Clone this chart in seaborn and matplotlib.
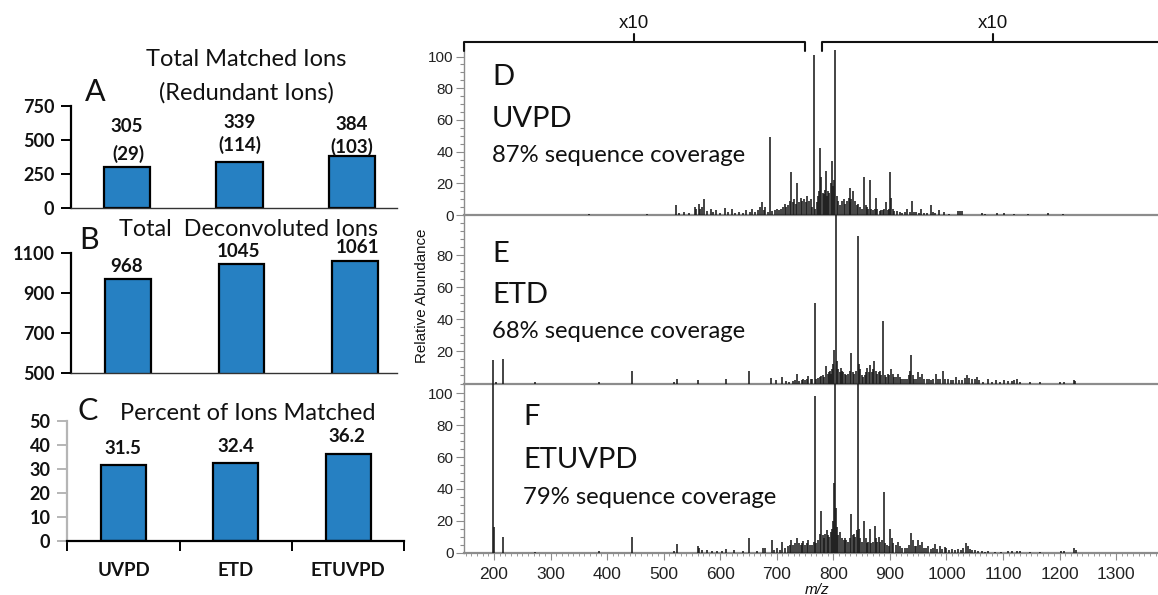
import matplotlib
matplotlib.use("Agg")
import matplotlib.pyplot as plt
from matplotlib.lines import Line2D
import pandas as pd
import seaborn as sns

sns.set_theme(style="white")
plt.rcParams['font.family'] = ['Lato', 'DejaVu Sans']

W, H = 1158, 595

methods = ['UVPD', 'ETD', 'ETUVPD']
matched_ions = [305, 339, 384]
deconvoluted_ions = [968, 1045, 1061]
percent_matched = [31.5, 32.4, 36.2]

# espectros (m/z, abundancia relativa)
uvpd_mz = [207, 260, 300, 368, 430, 470, 522, 528, 536, 545,
           555, 558, 562, 565, 568, 572, 576, 583, 588, 592,
           600, 608, 613, 621, 627, 633, 640, 646, 652, 657,
           662, 667, 671, 674, 678, 680, 684, 688, 692, 696,
           700, 704, 708, 711, 714, 717, 720, 723, 725, 728,
           731, 734, 736, 739, 742, 745, 748, 751, 754, 757,
           760, 763, 765, 768, 771, 773, 775, 777, 779, 781,
           783, 785, 787, 789, 791, 793, 795, 797, 799, 801,
           803.5, 806, 809, 812, 815, 818, 821, 824, 827, 830,
           829, 832, 835, 838, 841, 844, 847, 850, 854, 857,
           860, 862, 864, 867, 870, 873, 875, 878, 882, 885,
           888, 890, 893, 896, 898, 900, 902, 905, 908, 912,
           918, 922, 926, 931, 935, 939, 943, 947, 951, 955,
           960, 966, 972, 976, 980, 987, 996, 1005, 1020, 1024,
           1028, 1062, 1068, 1089, 1102, 1120, 1144, 1180, 1206, 1215]
uvpd_int = [.3, .3, .3, .8, .3, .4, 6, 1.5, 2, 1.5,
            5, 4, 7, 4, 5, 10, 2.5, 4, 2, 3,
            1.5, 4.5, 2, 4, 1.5, 2, 1.5, 3, 2, 4,
            2, 3, 5, 8, 3, 5, 2, 49, 2.5, 3,
            4, 3, 3.5, 5, 7, 5, 6, 9, 27, 8,
            10, 7, 20, 8, 11, 9, 10, 8, 12, 9,
            10, 5, 101, 4, 8, 12, 15, 42, 24, 14,
            13, 16, 28, 12, 15, 14, 20, 34, 18, 22,
            104, 12, 9, 6, 9, 10, 7, 9, 11, 8,
            17, 10, 15, 9, 6, 7, 5, 4, 24, 6,
            5, 4, 22, 4, 3, 4, 11, 4, 2.5, 3,
            3, 4, 8, 3, 4, 27, 11, 4, 2.5, 2.5,
            2, 1.5, 2, 3.5, 2, 9, 2, 2, 1.5, 3.5,
            1, 1.5, 6, 2, 1, 3, 2, .6, 2.5, 2.5,
            2.5, 1.5, .8, 1, 1, .4, .5, 1, .5, .3]

etd_mz = [199, 204, 216, 272, 386, 444, 518, 523, 560, 610,
          650, 690, 699, 709, 716, 722, 728, 732, 736, 740,
          744, 747, 750, 753, 756, 760, 763, 767, 770, 773,
          776, 778, 781, 784, 787, 790, 792, 794, 796, 798,
          800, 801.5, 804, 806, 808, 811, 813, 815, 817, 820,
          823, 826, 829, 831, 834, 837, 840, 843, 845, 847,
          850, 853, 856, 858, 860, 863, 865, 868, 870, 872,
          875, 878, 880, 883, 885, 888, 891, 893, 896, 899,
          902, 905, 908, 911, 914, 917, 920, 923, 926, 930,
          933, 935, 937, 940, 943, 947, 950, 954, 957, 961,
          965, 969, 973, 977, 981, 985, 989, 993, 997, 1003,
          1008, 1012, 1017, 1022, 1027, 1032, 1036, 1040, 1045, 1050,
          1054, 1058, 1064, 1074, 1080, 1087, 1094, 1101, 1108, 1115,
          1120, 1124, 1130, 1148, 1165, 1201, 1208, 1225, 1228]
etd_int = [14.5, 1, 15.5, .7, 1.2, 8, 1, 2.5, 2, 2.5,
           7.5, 3.5, 2, 4, 1.5, 1, 1.5, 2, 6, 1.5,
           2, 3, 2, 2.5, 4.5, 2.5, 3, 50, 3, 3.5,
           4, 4.5, 5, 4, 11, 6, 7, 8, 6, 9,
           12, 21, 105, 14, 9, 7, 9.5, 8, 7, 6,
           5, 6, 8, 19, 7, 6, 8, 92, 12, 9,
           5, 4, 5, 7, 9.5, 7, 11.5, 7, 9, 14,
           8, 6, 7, 8, 5, 39, 5, 4, 6, 5,
           9, 6, 4, 4, 6, 4, 3, 3, 3, 3,
           5, 8, 18, 5, 3, 3, 7, 4, 6, 3,
           3, 2.5, 2, 3, 6, 2.5, 3, 8, 2.5, 3,
           2, 2, 4, 2, 2, 3.5, 5, 3.5, 2.5, 2.5,
           4, 2, 1.2, 2.5, 1, 2, 1, 2, 1.5, 1.5,
           2, 2.5, 1, 1, .8, 1, 1, 2, 1.5]

etuvpd_mz = [199, 200.5, 216, 272, 386, 444, 518, 523, 560, 563,
             567, 576, 585, 594, 603, 611, 624, 640, 650, 665,
             675, 680, 691, 695, 700, 705, 709, 714, 719, 723,
             726, 729, 732, 736, 739, 742, 745, 747, 750, 753,
             756, 759, 762, 765, 767, 770, 773, 776, 779, 782,
             784, 786, 788, 790, 793, 795, 797, 799, 801, 803,
             805, 807, 809, 812, 815, 818, 820, 823, 826, 829,
             832, 834, 836, 839, 841, 843, 845, 848, 851, 854,
             857, 860, 862, 864, 867, 870, 873, 876, 878, 880,
             883, 886, 889, 892, 895, 898, 900, 903, 906, 910,
             914, 918, 922, 926, 930, 934, 937, 940, 944, 947,
             950, 953, 956, 960, 964, 968, 972, 976, 980, 984,
             988, 992, 997, 1000, 1005, 1010, 1015, 1020, 1025, 1030,
             1035, 1038, 1042, 1046, 1050, 1056, 1062, 1068, 1074, 1085,
             1096, 1109, 1116, 1124, 1130, 1148, 1165, 1203, 1208, 1225, 1229]
etuvpd_int = [107, 16, 10, .5, 1, 10, 1, 5.5, 4.5, 3,
              2, 1.5, .8, 1, .8, 2.5, 1.5, .8, 9, .8,
              3, 3, 8, 1.5, 3, 2, 6.5, 3, 4, 5,
              8, 5, 6, 9, 6, 5, 6, 7.5, 5, 6,
              8, 5, 5, 7, 98, 6, 8, 12, 26, 11,
              9, 12, 14, 11, 10, 13, 15, 20, 44, 107,
              28, 16, 11, 13, 9, 8, 9, 8, 7, 9,
              24, 11, 12, 10, 14, 107, 15, 9, 7, 20,
              9, 6, 7, 15, 6, 7, 17, 9, 7, 10,
              7, 8, 38, 6, 5, 4, 15, 9, 6, 5,
              7, 4, 3, 3, 3, 5, 12.5, 8, 4, 4,
              8, 5, 7, 3, 3, 4, 2.5, 3, 5.5, 2.5,
              4.5, 2.5, 3.5, 3, 2, 2.5, 2, 2.5, 2, 3,
              6, 4, 2.5, 2, 1.5, 1.2, 1, .7, 1, .6,
              .7, 1, .8, 1, .8, .7, .7, 1.2, .8, 3, 2]

BAR = '#2680c2'
GRAY = '#8c8c8c'

fig = plt.figure(figsize=(W / 100, H / 100), dpi=100, facecolor='white')


def px_axes(left, top, right, bottom):
    return fig.add_axes([left / W, 1 - bottom / H, (right - left) / W, (bottom - top) / H])


def px_text(x, y, s, **kw):
    kw.setdefault('ha', 'center')
    kw.setdefault('va', 'center')
    kw.setdefault('color', '#111111')
    fig.text(x / W, 1 - y / H, s, **kw)


def bar_panel(box, values, xlim, ylim, yticks, width, spine_color):
    ax = px_axes(*box)
    df = pd.DataFrame({'method': methods, 'value': values})
    sns.barplot(data=df, x='method', y='value', color=BAR, saturation=1,
                edgecolor='black', linewidth=1.6, width=width, ax=ax)
    ax.set_xlim(*xlim)
    ax.set_ylim(*ylim)
    ax.set_xlabel('')
    ax.set_ylabel('')
    ax.set_yticks(yticks)
    ax.set_xticks([])
    ax.tick_params(axis='y', left=True, length=7, width=1.4, color=spine_color, pad=5,
                   labelsize=13, labelcolor='#111111')
    for lab in ax.get_yticklabels():
        lab.set_fontweight('bold')
    sns.despine(ax=ax)
    ax.spines['left'].set_color(spine_color)
    ax.spines['left'].set_linewidth(1.6)
    ax.spines['bottom'].set_color('#333333')
    ax.spines['bottom'].set_linewidth(1.0)
    ax.patch.set_alpha(0)
    return ax


bar_panel((71, 106, 397, 208), matched_ions, (-0.498, 2.4), (0, 750), [0, 250, 500, 750], 0.41, 'black')
bar_panel((71, 253, 397, 373), deconvoluted_ions, (-0.502, 2.37), (500, 1100), [500, 700, 900, 1100], 0.4, 'black')
ax_c = bar_panel((67, 421, 404, 541), percent_matched, (-0.503, 2.498), (0, 50), [0, 10, 20, 30, 40, 50], 0.4, '#b5b5b5')
ax_c.spines['bottom'].set_color('black')
ax_c.spines['bottom'].set_linewidth(1.6)
ax_c.set_xticks([-0.503, 0.5, 1.5, 2.498])
ax_c.set_xticklabels([])
ax_c.tick_params(axis='x', bottom=True, length=7, width=1.4, color='black')

# titulos e rotulos das barras
px_text(246, 60, 'Total Matched Ions', fontsize=17)
px_text(246, 93, '(Redundant Ions)', fontsize=17)
px_text(95, 92, 'A', fontsize=22)
px_text(249, 230, 'Total  Deconvoluted Ions', fontsize=16.8)
px_text(89, 240, 'B', fontsize=22)
px_text(88, 411, 'C', fontsize=22)
px_text(248, 413, 'Percent of Ions Matched', fontsize=17)

bar_labels = [(127, 127, '305'), (128, 154, '(29)'), (240, 123, '339'), (240, 145, '(114)'),
              (352, 124, '384'), (352, 147, '(103)'), (127, 266, '968'), (238, 251, '1045'),
              (357, 247, '1061'), (123, 448, '31.5'), (236, 446, '32.4'), (347, 437, '36.2')]
for x, y, s in bar_labels:
    px_text(x, y, s, fontsize=13.5, fontweight='bold')
for x, s in zip([124, 236, 348], methods):
    px_text(x, 570, s, fontsize=13.5, fontweight='bold')


def spectrum_panel(box, mz, intens, ymax, labels, show_x=False):
    ax = px_axes(*box)
    ax.vlines(mz, 0, intens, color='#1a1a1a', linewidth=1.15, zorder=3)
    ax.set_xlim(147, 1374)
    ax.set_ylim(0, ymax)
    sns.despine(ax=ax)
    ax.spines['left'].set_color(GRAY)
    ax.spines['bottom'].set_color(GRAY)
    ax.spines['bottom'].set_linewidth(1.6)
    ax.spines['left'].set_linewidth(1.0)
    ax.set_yticks(labels)
    ax.set_yticks(list(range(0, 101, 5)), minor=True)
    ax.tick_params(axis='y', which='major', left=True, length=6, width=0.8, color=GRAY, pad=1.5,
                   labelsize=11, labelcolor='#222222')
    ax.tick_params(axis='y', which='minor', left=True, length=3, width=0.8, color=GRAY)
    if show_x:
        ax.set_xticks(list(range(200, 1301, 100)))
        ax.set_xticks(list(range(150, 1371, 10)), minor=True)
        ax.tick_params(axis='x', which='major', bottom=True, length=5, width=0.8, color=GRAY, pad=5,
                       labelsize=12.5, labelcolor='#222222')
        ax.tick_params(axis='x', which='minor', bottom=True, length=2.5, width=0.6, color=GRAY)
    else:
        ax.set_xticks([])
    for lab in ax.get_xticklabels() + ax.get_yticklabels():
        lab.set_family(['Liberation Sans'])
    ax.patch.set_alpha(0)
    return ax


spectrum_panel((464, 44, 1158, 215), uvpd_mz, uvpd_int, 107.9, [0, 20, 40, 60, 80, 100])
spectrum_panel((464, 215, 1158, 383.5), etd_mz, etd_int, 105.3, [20, 40, 60, 80])
spectrum_panel((464, 383.5, 1158, 552.7), etuvpd_mz, etuvpd_int, 106.1, [0, 20, 40, 60, 80, 100], show_x=True)

panel_text = [(492, 77, 119, 155, 'D', 'UVPD', '87% sequence coverage'),
              (492, 254, 295, 332, 'E', 'ETD', '68% sequence coverage'),
              (523, 417, 460, 497, 'F', 'ETUVPD', '79% sequence coverage')]
for x, y1, y2, y3, letter, name, cover in panel_text:
    px_text(x, y1, letter, ha='left', fontsize=21)
    px_text(x, y2, name, ha='left', fontsize=21)
    px_text(x, y3, cover, ha='left', fontsize=17.2)

px_text(422, 296, 'Relative Abundance', rotation=90, fontsize=10.9, family=['Liberation Sans'])
px_text(817, 590, 'm/z', fontsize=11, style='italic', family=['Liberation Sans'])

# colchetes x10
for x0, x1, xm in [(464, 805, 634), (822, 1160, 993)]:
    fig.add_artist(Line2D([x0 / W, x0 / W, x1 / W, x1 / W],
                          [1 - 51 / H, 1 - 42 / H, 1 - 42 / H, 1 - 51 / H],
                          color='#111111', linewidth=1.5, solid_joinstyle='round'))
    fig.add_artist(Line2D([xm / W, xm / W], [1 - 42 / H, 1 - 34 / H], color='#111111', linewidth=1.5))
    px_text(xm, 24, 'x10', fontsize=13.5, family=['Liberation Sans'])

fig.savefig('out.png', dpi=100)
